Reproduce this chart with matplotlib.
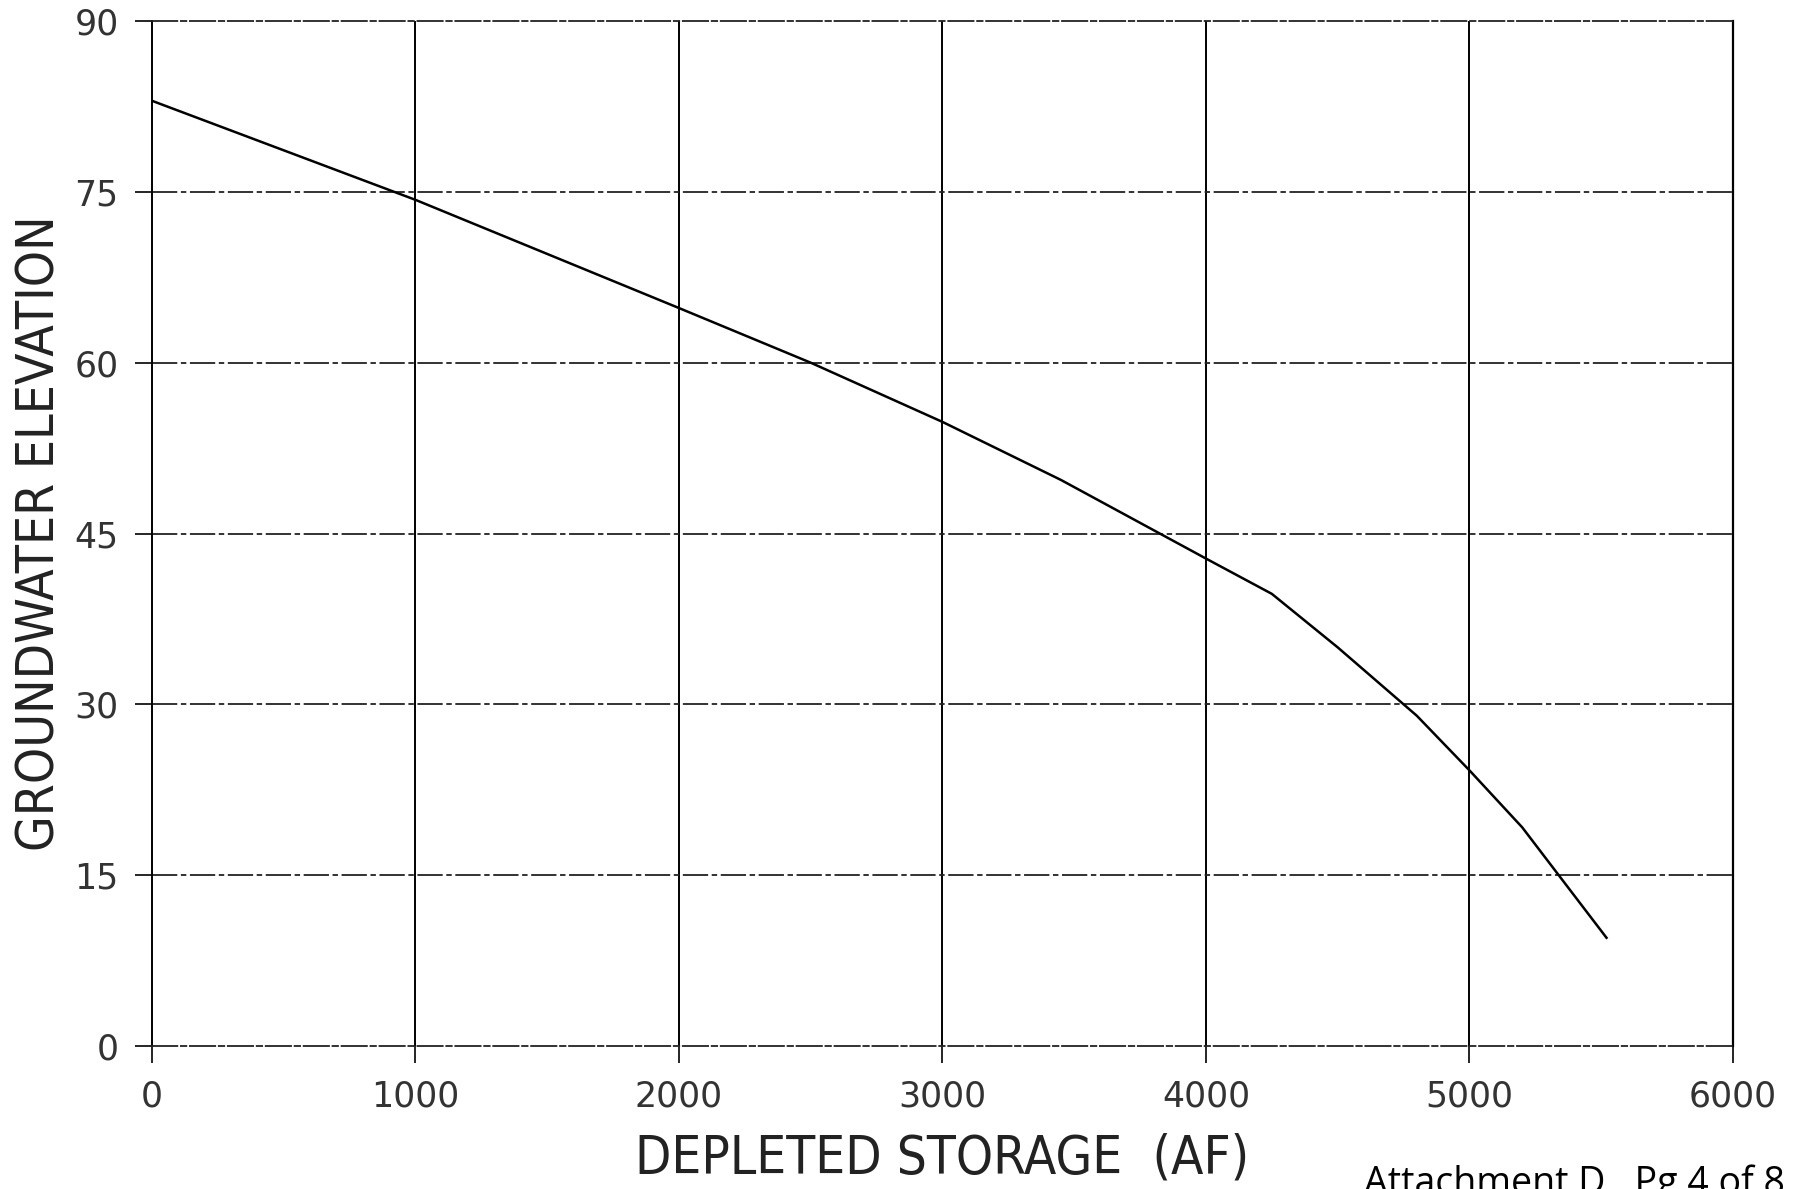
import matplotlib.pyplot as plt

storage = [0, 1000, 2000, 2500, 3000, 3450, 4000, 4250, 4500, 4800, 5000, 5200, 5520]
elevation = [83, 74.3, 64.8, 60, 54.8, 49.7, 42.8, 39.7, 35, 29, 24.2, 19.2, 9.5]

x_ticks = [0, 1000, 2000, 3000, 4000, 5000, 6000]
y_ticks = [0, 15, 30, 45, 60, 75, 90]

fig = plt.figure(figsize=(18.02, 11.89), dpi=100)
ax = fig.add_axes([0.0843, 0.1203, 0.8774, 0.862])

ax.plot(storage, elevation, color='black', lw=1.8)

ax.set_xlim(0, 6000)
ax.set_ylim(0, 90)
ax.set_xticks(x_ticks)
ax.set_yticks(y_ticks)

# plotter style grid: solid verticals, broken horizontals
for x in x_ticks[1:-1]:
    ax.axvline(x, color='black', lw=1.4, zorder=1)
for y in y_ticks[1:-1]:
    ax.axhline(y, color='#222222', lw=1.3, ls=(0, (14, 2, 3, 2)), zorder=1)

for side in ['top', 'bottom']:
    ax.spines[side].set_linestyle((0, (14, 2, 3, 2)))
    ax.spines[side].set_linewidth(1.3)
    ax.spines[side].set_color('#222222')
ax.spines['left'].set_linewidth(1.4)
ax.spines['right'].set_linewidth(1.6)

ax.tick_params(axis='both', direction='out', length=12, width=1.2,
               labelsize=25, labelcolor='#333333', pad=12)

ax.set_xlabel('DEPLETED STORAGE  (AF)', fontsize=38, family='DejaVu Sans',
              fontstretch='condensed', color='#222222', labelpad=14)
ax.set_ylabel('GROUNDWATER ELEVATION', fontsize=37, family='DejaVu Sans',
              fontstretch='condensed', color='#222222', labelpad=6)

fig.text(0.757, 0.021, 'Attachment D   Pg 4 of 8', fontsize=27,
         family=['Open Sans', 'DejaVu Sans'], va='top', ha='left')

fig.savefig('out.png', dpi=100)
